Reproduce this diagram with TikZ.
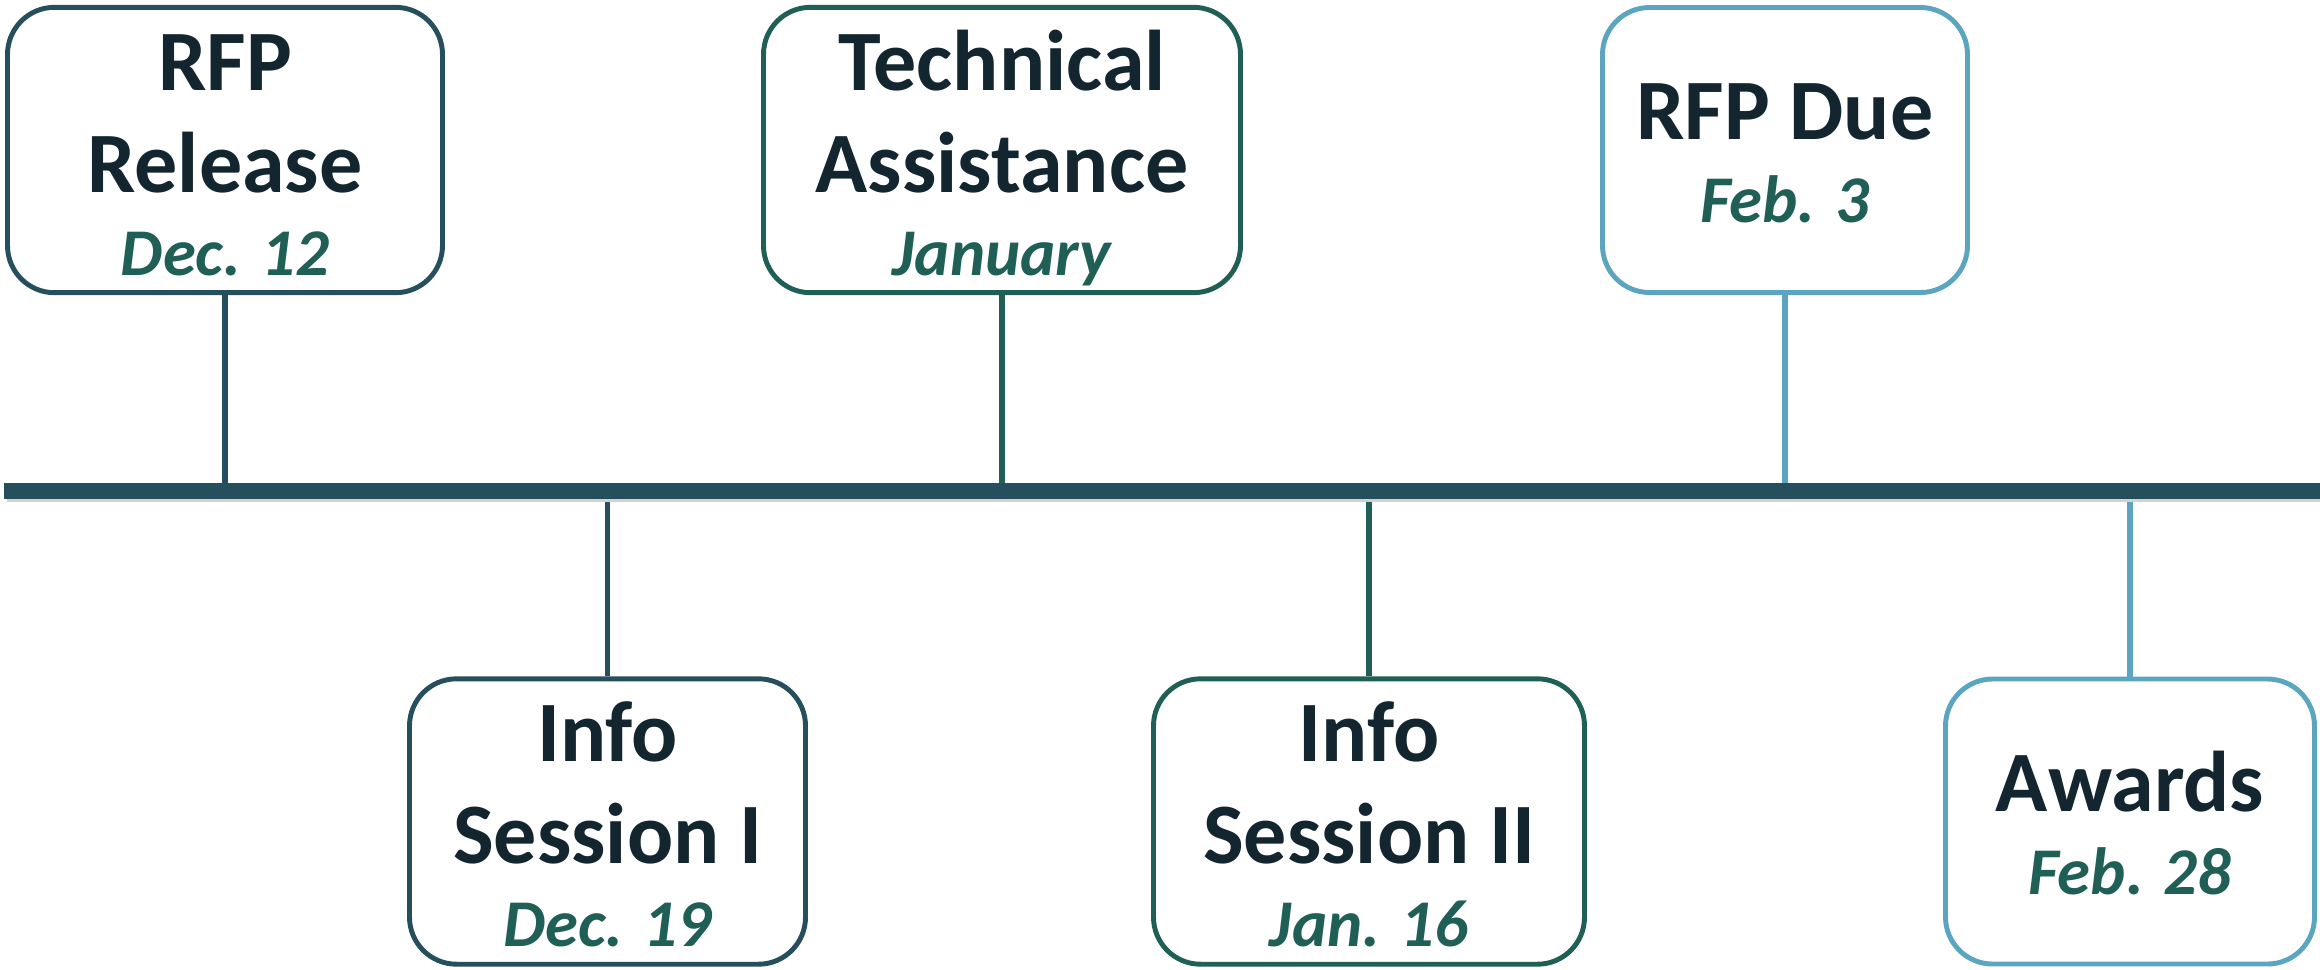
\documentclass[tikz,border=0pt]{standalone}
\usepackage{fontspec}
\setmainfont{Carlito}
\usetikzlibrary{calc}
\definecolor{tlnavy}{HTML}{264F5E}
\definecolor{tlgreen}{HTML}{1F5F55}
\definecolor{tlsky}{HTML}{5BA5C0}
\definecolor{tlink}{HTML}{13262F}
\tikzset{
	milestone/.style={draw=#1, line width=1.4pt, rounded corners=0.47cm, fill=white,
		minimum height=2.85cm, align=center, text=tlink, inner sep=0pt,
		text height=46.5pt, text depth=5pt,
		font=\fontsize{24.5}{29}\selectfont\bfseries},
	threeline/.style={text height=76.2pt},
	stem/.style={draw=#1, line width=1.7pt},
	timeline/.style={draw=tlnavy, line width=4.55pt},
}
\newcommand\when[1]{{\fontsize{19}{23}\selectfont\itshape\color{tlgreen}#1}}

\begin{document}
\begin{tikzpicture}
			%%%%% START %%%%%
			\useasboundingbox (0, 0) rectangle (23.2, -9.69);
			
			\coordinate (tl-w) at (0.04, -4.91);
			\coordinate (tl-e) at (23.2, -4.91);
			
			% above the line
			\node[milestone=tlnavy, threeline, minimum width=4.35cm] (release) at (2.25, -1.5) {RFP\\Release\\[-5.4pt]\when{Dec. 12}};
			\node[milestone=tlgreen, threeline, minimum width=4.77cm] (techassist) at (10.02, -1.5) {Technical\\Assistance\\[-5.4pt]\when{January}};
			\node[milestone=tlsky, minimum width=3.65cm] (due) at (17.85, -1.5) {RFP Due\\[-5.4pt]\when{Feb. 3}};
			
			% below the line
			\node[milestone=tlnavy, threeline, minimum width=3.96cm] (infoone) at (6.075, -8.215) {Info\\Session I\\[-5.4pt]\when{Dec. 19}};
			\node[milestone=tlgreen, threeline, minimum width=4.31cm] (infotwo) at (13.69, -8.215) {Info\\Session II\\[-5.4pt]\when{Jan. 16}};
			\node[milestone=tlsky, minimum width=3.69cm] (awards) at (21.3, -8.215) {Awards\\[-5.4pt]\when{Feb. 28}};
			
			\draw[stem=tlnavy] (release.south) -- (release.south |- tl-w);
			\draw[stem=tlgreen] (techassist.south) -- (techassist.south |- tl-w);
			\draw[stem=tlsky] (due.south) -- (due.south |- tl-w);
			\draw[stem=tlnavy] (infoone.north) -- (infoone.north |- tl-w);
			\draw[stem=tlgreen] (infotwo.north) -- (infotwo.north |- tl-w);
			\draw[stem=tlsky] (awards.north) -- (awards.north |- tl-w);
			
			\draw[line width=4.55pt, black!18] ($(tl-w)+(0.03, -0.03)$) -- ($(tl-e)+(0, -0.03)$);
			\draw[timeline] (tl-w) -- (tl-e);
			%%%%% END %%%%%
\end{tikzpicture}
\end{document}
